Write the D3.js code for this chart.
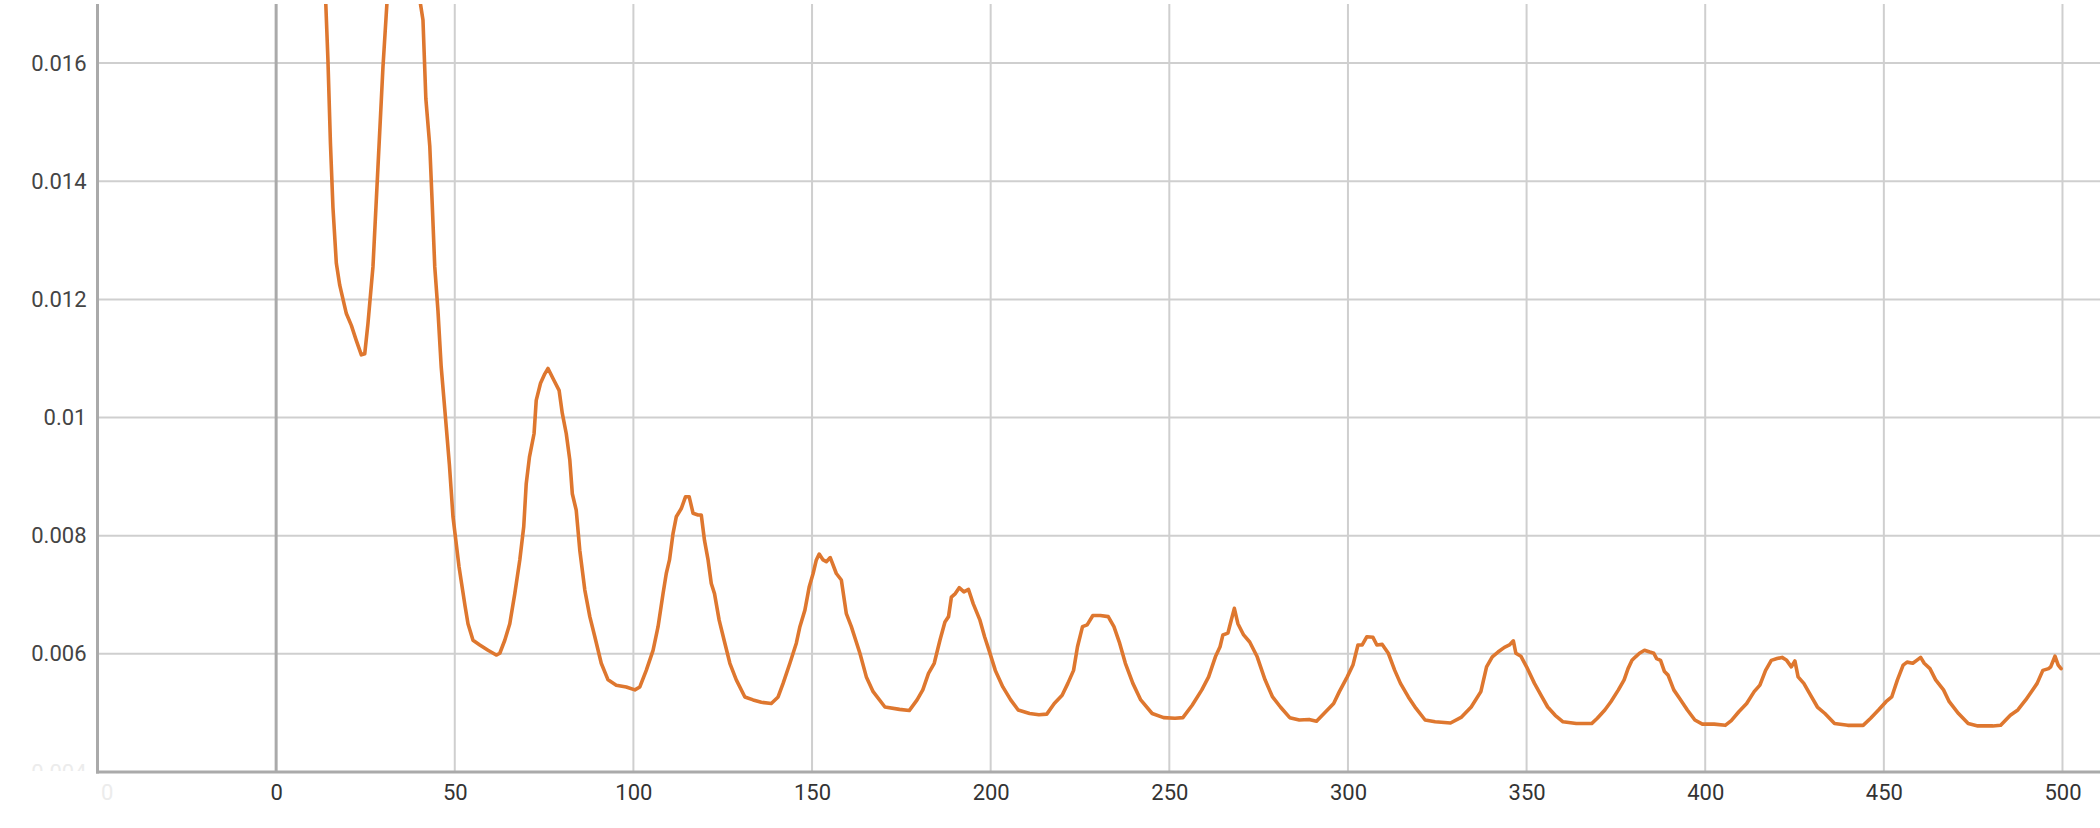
<!DOCTYPE html>
<html>
<head>
<meta charset="utf-8">
<script src="https://cdn.jsdelivr.net/npm/d3@7"></script>
<style>
  html, body { margin: 0; padding: 0; background: #fff; }
  svg { display: block; }
  text { font-family: Roboto, "Noto Sans", sans-serif; }
</style>
</head>
<body>
<svg id="chart" width="2100" height="828"></svg>
<script>
// ---- data ----
const steps = [
  12, 13, 13.9, 14.5, 15.2, 15.9, 16.85, 17.8, 19.65, 21.05, 22.4, 23.85, 24.8, 25.7, 27.1, 28.5, 29.9, 31,
  33, 36, 39, 40.4, 41.1, 41.9, 43.0, 43.7, 44.4, 45.3, 46.2, 47.4, 48.5, 49.5, 51.2, 52.9, 53.7, 55.1, 57.0,
  59.3, 61.6, 62.6, 64.0, 65.4, 66.8, 68.2, 69.3, 70.0, 70.9, 72.2, 72.8, 74.0, 75.2, 76.1, 77.5, 79.2, 80.1,
  81.2, 82.2, 82.9, 84.0, 85.0, 86.4, 87.8, 89.2, 91.0, 92.9, 95.2, 98.0, 100.4, 101.8, 103.6, 105.5, 106.9,
  108.3, 109.2, 110.1, 111.1, 112.0, 113.4, 114.6, 115.6, 116.7, 118.1, 119.0, 119.9, 120.9, 121.8, 122.7,
  124.0, 125.6, 127.0, 128.8, 131.2, 133.5, 135.8, 138.6, 140.5, 141.9, 143.8, 145.6, 146.6, 148.0, 149.2,
  150.3, 151.2, 152.0, 153.1, 154.0, 155.1, 156.8, 158.2, 159.6, 161.0, 163.4, 165.2, 167.1, 170.4, 174.5,
  177.2, 179.4, 181.0, 182.6, 184.2, 185.8, 187.2, 188.2, 189.0, 190.1, 191.2, 192.5, 193.8, 195.1, 197.0,
  198.3, 199.7, 201.3, 203.4, 205.6, 207.7, 210.9, 213.5, 215.7, 217.8, 220.0, 221.6, 223.2, 224.3, 225.7,
  227.0, 228.6, 230.7, 232.9, 234.5, 236.1, 237.7, 239.8, 242.0, 245.2, 248.4, 251.6, 253.8, 256.4, 259.1,
  261.0, 262.9, 264.2, 265.0, 266.4, 267.2, 268.2, 269.2, 270.8, 272.5, 274.6, 276.8, 278.9, 281.1, 283.7,
  286.4, 289.1, 291.2, 293.3, 296.0, 297.6, 299.8, 301.4, 302.8, 304.0, 305.3, 307.0, 308.1, 309.6, 311.3,
  313.1, 314.7, 316.9, 319.0, 321.6, 324.4, 328.7, 331.8, 334.5, 337.2, 338.8, 340.4, 342.0, 343.8, 345.2,
  346.3, 347.0, 348.4, 350.0, 352.2, 354.3, 355.9, 358.0, 360.2, 363.9, 368.2, 369.8, 371.9, 373.6, 375.7,
  377.3, 378.4, 379.5, 380.5, 381.6, 383.0, 384.5, 385.6, 386.4, 387.5, 388.6, 389.6, 391.2, 392.8, 395.0,
  397.1, 399.2, 402.5, 405.6, 407.3, 409.4, 411.6, 413.7, 415.3, 416.9, 418.5, 420.1, 421.5, 422.8, 424.1,
  425.1, 426.0, 427.6, 429.2, 431.4, 433.5, 436.2, 439.9, 444.2, 446.3, 448.5, 450.6, 452.2, 453.8, 455.4,
  456.5, 458.1, 459.2, 460.3, 461.3, 462.9, 464.5, 466.7, 468.3, 470.9, 473.6, 476.3, 480.5, 482.7, 485.4,
  487.5, 489.7, 491.3, 492.9, 494.5, 496.1, 496.7, 497.9, 498.8, 499.6
];
const values = [
  0.0200, 0.0185, 0.0170, 0.01605, 0.01464, 0.01356, 0.01261, 0.01224, 0.01176, 0.01156, 0.01131, 0.01106, 0.01108, 0.01159, 0.01255, 0.01424, 0.01593, 0.0170,
  0.0185, 0.0191, 0.0183, 0.0170, 0.01673, 0.0154, 0.0146, 0.0136, 0.01255, 0.0118, 0.01086, 0.0100, 0.0092, 0.00832, 0.00747, 0.0068, 0.00651, 0.00623, 0.00615,
  0.00606, 0.00598, 0.00601, 0.00623, 0.00651, 0.00702, 0.00759, 0.00815, 0.00888, 0.00933, 0.00973, 0.01029, 0.01058, 0.01074, 0.01083, 0.01066, 0.01046, 0.01007,
  0.00973, 0.00928, 0.00871, 0.00843, 0.00775, 0.00708, 0.00663, 0.00629, 0.00584, 0.00556, 0.00547, 0.00544, 0.00539, 0.00544, 0.00572, 0.00606, 0.00646,
  0.00702, 0.00736, 0.00759, 0.00804, 0.00832, 0.00846, 0.00866, 0.00866, 0.00838, 0.00835, 0.00835, 0.00792, 0.00759, 0.00719, 0.00702,
  0.00657, 0.00618, 0.00584, 0.00556, 0.00527, 0.00522, 0.00518, 0.00516, 0.00527, 0.0055, 0.00584, 0.00618, 0.00646, 0.00674, 0.00713,
  0.00736, 0.00759, 0.00769, 0.00759, 0.00756, 0.00763, 0.00736, 0.00725, 0.00668, 0.00646, 0.00601, 0.00561, 0.00536, 0.0051, 0.00506,
  0.00504, 0.00522, 0.00539, 0.00567, 0.00584, 0.00623, 0.00654, 0.00663, 0.00696, 0.00702, 0.00712, 0.00705, 0.00709, 0.00685, 0.00657,
  0.00629, 0.00603, 0.00572, 0.00544, 0.00522, 0.00505, 0.00499, 0.00497, 0.00498, 0.00516, 0.0053, 0.0055, 0.00572, 0.00612, 0.00646,
  0.00649, 0.00665, 0.00665, 0.00663, 0.00646, 0.00618, 0.00584, 0.0055, 0.00522, 0.00499, 0.00492, 0.00491, 0.00492, 0.00513, 0.00539,
  0.00561, 0.00595, 0.00612, 0.00632, 0.00635, 0.00654, 0.00677, 0.00651, 0.00632, 0.0062, 0.00595, 0.00556, 0.00527, 0.0051, 0.00492,
  0.00488, 0.00489, 0.00486, 0.00499, 0.00516, 0.00536, 0.00561, 0.00581, 0.00615, 0.00615, 0.00629, 0.00628, 0.00615, 0.00616, 0.00601,
  0.00572, 0.0055, 0.00527, 0.00508, 0.00488, 0.00485, 0.00483, 0.00493, 0.0051, 0.00536, 0.00578, 0.00595, 0.00603, 0.00611, 0.00615,
  0.00622, 0.00601, 0.00596, 0.00578, 0.0055, 0.00527, 0.0051, 0.00496, 0.00485, 0.00482, 0.00482, 0.00491, 0.00505, 0.00519, 0.00539,
  0.00556, 0.00575, 0.00589, 0.00595, 0.00601, 0.00606, 0.00603, 0.00601, 0.00592, 0.00589, 0.0057, 0.00564, 0.00539, 0.00525, 0.00505,
  0.00488, 0.00481, 0.00481, 0.00479, 0.00487, 0.00502, 0.00516, 0.00536, 0.00547, 0.00572, 0.00589, 0.00592, 0.00594, 0.00589, 0.00578,
  0.00588, 0.00561, 0.0055, 0.00533, 0.0051, 0.00499, 0.00482, 0.00479, 0.00479, 0.00491, 0.00505, 0.00519, 0.00527, 0.00556, 0.00581,
  0.00586, 0.00584, 0.00589, 0.00594, 0.00584, 0.00575, 0.00556, 0.00539, 0.00519, 0.00499, 0.00482, 0.00478, 0.00478, 0.00479, 0.00496,
  0.00505, 0.00522, 0.00536, 0.0055, 0.00572, 0.00575, 0.00578, 0.00596, 0.00581, 0.00575
];
const xTicks = [-50, 0, 50, 100, 150, 200, 250, 300, 350, 400, 450, 500];
const yTicks = [0.004, 0.006, 0.008, 0.01, 0.012, 0.014, 0.016];
const xDomain = [-50, 510.5];
const yDomain = [0.004, 0.017];

// ---- layout ----
const W = 2100, H = 828;
const pL = 97.5, pR = 2100, pT = 4, pB = 772;
const svg = d3.select("#chart");

const x = d3.scaleLinear().domain(xDomain).range([pL, pR]);
const y = d3.scaleLinear().domain(yDomain).range([pB, pT]);

const defs = svg.append("defs");
defs.append("clipPath").attr("id", "plot")
  .append("rect").attr("x", pL).attr("y", pT).attr("width", pR - pL).attr("height", pB - pT);
defs.append("clipPath").attr("id", "ylab")
  .append("rect").attr("x", 0).attr("y", 0).attr("width", pL).attr("height", pB - 1);
defs.append("clipPath").attr("id", "xlab")
  .append("rect").attr("x", pL + 3.5).attr("y", pB).attr("width", pR - pL).attr("height", H - pB);

// grid
const grid = svg.append("g");
grid.selectAll(".hg").data(yTicks.filter(d => d > yDomain[0])).join("line")
  .attr("x1", pL).attr("x2", pR)
  .attr("y1", d => y(d)).attr("y2", d => y(d))
  .attr("stroke", "#cfcfcf").attr("stroke-width", 2);
grid.selectAll(".vg").data(xTicks.filter(d => d > xDomain[0] && d !== 0)).join("line")
  .attr("x1", d => x(d)).attr("x2", d => x(d))
  .attr("y1", pT).attr("y2", pB)
  .attr("stroke", "#cfcfcf").attr("stroke-width", 2);
// zero line
svg.append("line")
  .attr("x1", x(0)).attr("x2", x(0)).attr("y1", pT).attr("y2", pB)
  .attr("stroke", "#aaaaaa").attr("stroke-width", 3);

// axes (outer group carries the clip in page coordinates, inner group the translate)
const yAxis = d3.axisLeft(y).tickValues(yTicks).tickSize(0).tickPadding(11)
  .tickFormat(d => String(+d.toFixed(3)));
const gy = svg.append("g").attr("clip-path", "url(#ylab)")
  .append("g").attr("transform", `translate(${pL},0)`).call(yAxis);
gy.select(".domain").remove();
gy.selectAll("text").attr("font-size", 22).attr("fill", d => d === yDomain[0] ? "#ececec" : "#444")
  .attr("font-family", "Roboto, 'Noto Sans', sans-serif");

const xAxis = d3.axisBottom(x).tickValues(xTicks).tickSize(0).tickPadding(12)
  .tickFormat(d => d < 0 ? "-" + Math.abs(d) : String(d));
const gx = svg.append("g").attr("clip-path", "url(#xlab)")
  .append("g").attr("transform", `translate(0,${pB})`).call(xAxis);
gx.select(".domain").remove();
gx.selectAll("text").attr("font-size", 22).attr("fill", d => d === xDomain[0] ? "#ececec" : "#333")
  .attr("font-family", "Roboto, 'Noto Sans', sans-serif");

// axis lines
svg.append("line").attr("x1", pL).attr("x2", pL).attr("y1", pT).attr("y2", pB + 1.5)
  .attr("stroke", "#aaaaaa").attr("stroke-width", 3);
svg.append("line").attr("x1", pL - 1.5).attr("x2", pR).attr("y1", pB).attr("y2", pB)
  .attr("stroke", "#aaaaaa").attr("stroke-width", 3);

// series line
const pts = steps.map((s, i) => [s, values[i]]);
const line = d3.line().x(d => x(d[0])).y(d => y(d[1]));
svg.append("g").attr("clip-path", "url(#plot)")
  .append("path").datum(pts)
  .attr("d", line)
  .attr("fill", "none")
  .attr("stroke", "#de772f")
  .attr("stroke-width", 3.6)
  .attr("stroke-linejoin", "round")
  .attr("stroke-linecap", "round");
</script>
</body>
</html>
